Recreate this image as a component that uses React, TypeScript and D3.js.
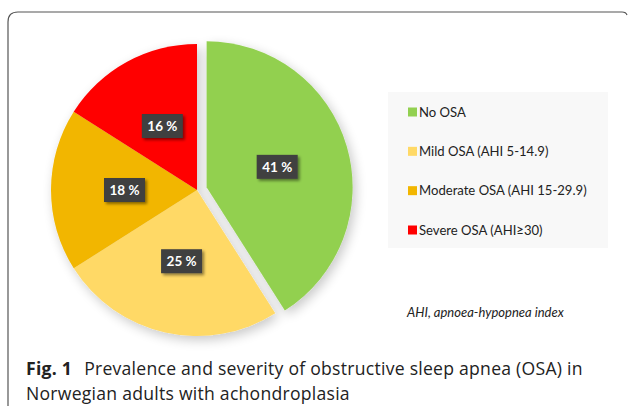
import React from "react";
import * as d3 from "d3";

const categories = ["No OSA", "Mild OSA (AHI 5-14.9)", "Moderate OSA (AHI 15-29.9)", "Severe OSA (AHI≥30)"];
const values = [41, 25, 18, 16];
const labels = ["41 %", "25 %", "18 %", "16 %"];
const colors = ["#92d050", "#ffd966", "#f2b600", "#ff0000"];
const explode = [10, 0, 0, 0];

export default function App() {
  const W = 628, H = 416;
  const cx = 197, cy = 190, r = 146;
  const pie = d3.pie<number>().sort(null).value((d) => d);
  const arcs = pie(values);
  const arc = d3.arc<d3.PieArcDatum<number>>().innerRadius(0).outerRadius(r);
  const labelArc = d3.arc<d3.PieArcDatum<number>>().innerRadius(r * 0.5).outerRadius(r * 0.5);
  const legendY = d3.scalePoint<string>().domain(categories).range([112, 230]);

  return (
    <svg width={W} height={H} style={{ position: "absolute", left: 0, top: 0, background: "#fff" }}>
      <defs>
        <filter id="sh" x="-20%" y="-20%" width="140%" height="140%">
          <feGaussianBlur in="SourceAlpha" stdDeviation="6" />
          <feOffset dx="3" dy="4" result="b" />
          <feComponentTransfer><feFuncA type="linear" slope="0.22" /></feComponentTransfer>
          <feMerge><feMergeNode /><feMergeNode in="SourceGraphic" /></feMerge>
        </filter>
        <filter id="lsh" x="-30%" y="-30%" width="160%" height="160%">
          <feGaussianBlur in="SourceAlpha" stdDeviation="1.5" />
          <feOffset dx="2" dy="2" />
          <feComponentTransfer><feFuncA type="linear" slope="0.45" /></feComponentTransfer>
          <feMerge><feMergeNode /><feMergeNode in="SourceGraphic" /></feMerge>
        </filter>
      </defs>
      <path d="M8,406 L8,22 Q8,12 18,12 L622,12 Q626,12 627,15" fill="none" stroke="#555" strokeWidth={1.2} />
      <g transform={`translate(${cx},${cy})`} filter="url(#sh)">
        {arcs.map((a, i) => {
          const m = (a.startAngle + a.endAngle) / 2;
          const dx = Math.sin(m) * explode[i], dy = -Math.cos(m) * explode[i];
          return <path key={i} d={arc(a) || ""} fill={colors[i]} transform={`translate(${dx},${dy})`} />;
        })}
      </g>
      <g transform={`translate(${cx},${cy})`}>
        {arcs.map((a, i) => {
          const m = (a.startAngle + a.endAngle) / 2;
          const dx = Math.sin(m) * explode[i], dy = -Math.cos(m) * explode[i];
          const [lx, ly] = labelArc.centroid(a);
          return (
            <g key={i} transform={`translate(${lx + dx},${ly + dy})`}>
              <rect x={-20} y={-12} width={41} height={24} fill="#3f3f3f" filter="url(#lsh)" />
              <text x={0.5} y={0} dy="0.36em" textAnchor="middle" fill="#fff" fontFamily="Lato, 'Open Sans', sans-serif" fontWeight={700} fontSize={13.5}>{labels[i]}</text>
            </g>
          );
        })}
      </g>
      <rect x={388} y={92} width={220} height={156} fill="#f8f8f8" />
      {categories.map((c, i) => (
        <g key={c} transform={`translate(408,${legendY(c)})`}>
          <rect x={0} y={-4.5} width={9} height={9} fill={colors[i]} />
          <text x={11} y={0} dy="0.36em" fontFamily="Lato, 'Open Sans', sans-serif" fontSize={13.1} fill="#222">{c}</text>
        </g>
      ))}
      <text x={407} y={317} fontFamily="Lato, 'Open Sans', sans-serif" fontStyle="italic" fontSize={13} fill="#222">AHI, apnoea-hypopnea index</text>
      <text x={26} y={375} fontFamily="'Open Sans', 'Noto Sans', sans-serif" fontSize={17.6} letterSpacing={0.25} fill="#222">
        <tspan fontWeight={700}>Fig. 1</tspan>
        <tspan dx={12}>Prevalence and severity of obstructive sleep apnea (OSA) in</tspan>
      </text>
      <text x={26} y={399.5} fontFamily="'Open Sans', 'Noto Sans', sans-serif" fontSize={17.6} letterSpacing={0.25} fill="#222">Norwegian adults with achondroplasia</text>
    </svg>
  );
}
